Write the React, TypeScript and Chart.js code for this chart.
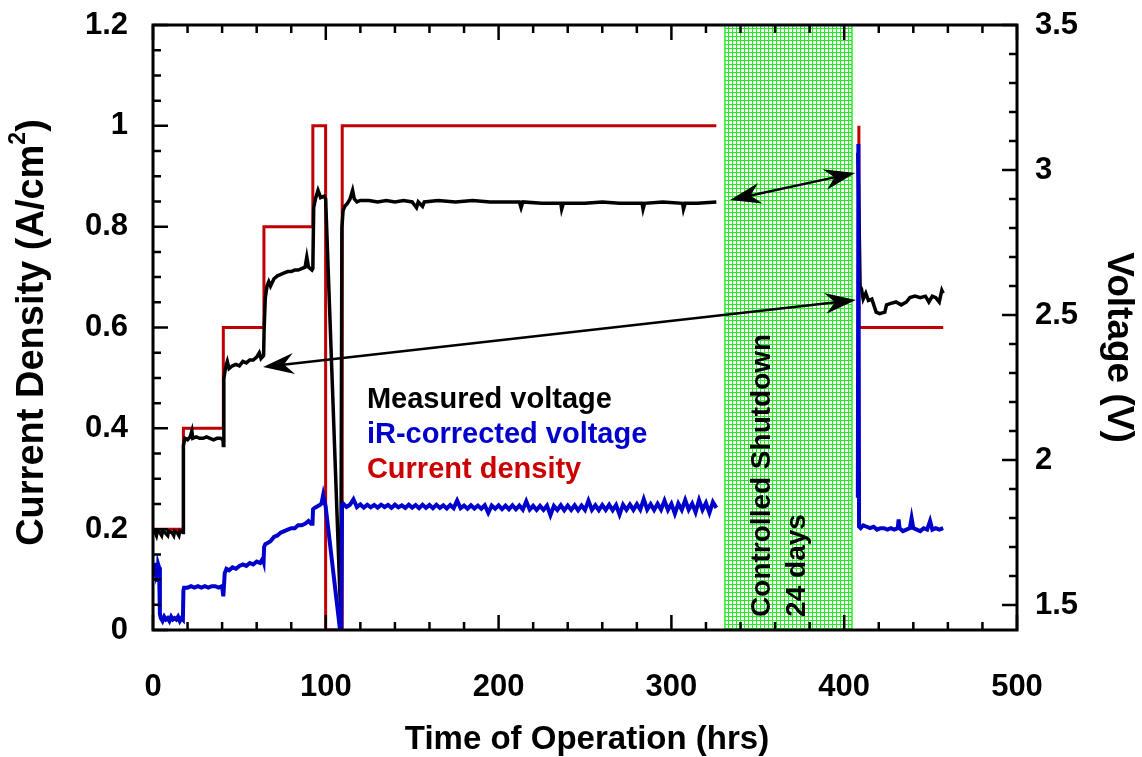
import { useEffect, useRef } from "react";
import { Chart, registerables } from "chart.js";

Chart.register(...registerables);

const FONT = '"Liberation Sans", Arial, Helvetica, sans-serif';

// ---- Current density (A/cm2), left axis ----
const currentT = [0, 17.6, 17.6, 40.7, 40.7, 64.2, 64.2, 92.5, 92.5, 99.9, 99.9, 109.5, 109.5, 326, 367, 408.5, 408.5, 457.3];
const currentJ = [0.2, 0.2, 0.4, 0.4, 0.6, 0.6, 0.8, 0.8, 1.0, 1.0, 0, 0, 1.0, 1.0, null, 1.0, 0.6, 0.6];

// ---- Measured voltage (V), right axis ----
const measuredT = [
  0, 1, 2, 2.5, 4, 5, 5.5, 7, 8.5, 9, 11, 12, 12.5, 14, 15, 15.5, 17.4,
  17.6, 18.5, 20, 21.5, 22.5, 23, 25, 27, 29, 31, 33, 35, 37, 39, 40.5,
  40.7, 41, 42, 43, 44, 46, 48, 50, 52, 54, 56, 58, 60, 61.5, 62.5, 64,
  64.3, 65, 66, 67, 68, 70, 72, 74, 76, 78, 80, 82, 84, 86, 88, 89, 90, 92,
  92.5, 93, 94, 95.5, 97, 99, 99.9,
  108.7, 109.3, 110, 111, 112.5, 114, 115.5, 116.5, 118, 120, 125, 130, 135, 140, 145, 150,
  152.5, 153.5, 156, 157, 165, 175, 185, 195, 205, 212, 213, 214, 225, 236, 236.5, 237.5,
  250, 260, 270, 283, 283.6, 284.5, 295, 306.5, 307, 308, 315, 326,
  367,
  407.9, 408.3, 409.2, 410, 411, 412.5, 414, 416, 418.5, 420.5, 423.5, 424.5, 427, 430,
  433, 436, 438, 441, 444, 447, 449, 451, 453, 455, 456.5, 457.3,
];
const measuredV = [
  1.75, 1.755, 1.74, 1.755, 1.75, 1.74, 1.755, 1.75, 1.74, 1.755, 1.75, 1.74, 1.755, 1.75, 1.74, 1.755, 1.75,
  2.05, 2.075, 2.07, 2.08, 2.1, 2.075, 2.08, 2.075, 2.075, 2.08, 2.075, 2.07, 2.075, 2.075, 2.07,
  2.05, 2.28, 2.32, 2.34, 2.315, 2.325, 2.33, 2.325, 2.34, 2.335, 2.345, 2.345, 2.355, 2.37, 2.35, 2.36,
  2.45, 2.56, 2.6, 2.615, 2.6, 2.625, 2.635, 2.64, 2.645, 2.65, 2.65, 2.655, 2.655, 2.66, 2.665, 2.7, 2.665, 2.655,
  2.66, 2.87, 2.9, 2.93, 2.905, 2.91, 2.9,
  1.45, 2.8, 2.86, 2.875, 2.885, 2.9, 2.93, 2.9, 2.89, 2.895, 2.895, 2.89, 2.895, 2.89, 2.895, 2.89,
  2.87, 2.89, 2.875, 2.89, 2.895, 2.89, 2.895, 2.89, 2.89, 2.89, 2.87, 2.89, 2.885, 2.885, 2.865, 2.885,
  2.885, 2.89, 2.885, 2.885, 2.865, 2.885, 2.89, 2.885, 2.865, 2.885, 2.885, 2.89,
  null,
  3.06, 2.94, 2.6, 2.59, 2.555, 2.575, 2.55, 2.555, 2.51, 2.505, 2.51, 2.535, 2.54, 2.545,
  2.535, 2.545, 2.56, 2.565, 2.56, 2.565, 2.545, 2.565, 2.56, 2.545, 2.585, 2.575,
];

// ---- iR-corrected voltage (V), right axis ----
const irT = [
  0, 0.5, 1, 1.5, 2, 2.5, 3, 3.5, 4,
  4.5, 5.5, 6.5, 7.5, 8.5, 9.5, 10.5, 11.5, 12.5, 13.5, 14.5, 15.5, 16.5, 17.3,
  17.6, 18, 20, 22, 24, 26, 28, 30, 32, 34, 36, 38, 40, 40.5,
  40.7, 41.5, 42.5, 44, 46, 48, 50, 52, 54, 56, 58, 60, 62, 63.5, 64,
  64.3, 65, 66.5, 68, 70, 72, 74, 76, 78, 80, 82, 84, 86, 88, 90, 91.5, 92.3,
  92.6, 93.5, 95, 96.5, 97.5, 98.5, 99.9,
  108.9, 109.4,
  110, 112, 114, 116, 118, 120, 122, 124, 126, 128, 130, 132, 134, 136, 138, 140, 142, 144, 146, 148,
  150, 152, 154, 156, 158, 160, 162, 164, 166, 168, 170, 172, 174, 176, 178, 180, 182, 184, 186, 188,
  190, 192, 194, 196, 198, 200, 202, 204, 206, 208, 210, 212, 214, 216, 218, 220, 222, 224, 226, 228,
  230, 232, 234, 236, 238, 240, 242, 244, 246, 248, 250, 252, 254, 256, 258, 260, 262, 264, 266, 268,
  270, 272, 274, 276, 278, 280, 282, 284, 286, 288, 290, 292, 294, 296, 298, 300, 302, 304, 306, 308,
  310, 312, 314, 316, 318, 320, 322, 324, 326,
  367,
  407.9, 408.2, 408.6, 409.5, 411, 413, 415, 417, 419, 421, 423, 425, 427, 429, 431, 431.5, 432,
  434, 436, 438, 439, 440, 442, 444, 446, 448, 449.7, 451, 453, 455, 457.3,
];
const irV = [
  1.64, 1.6, 1.645, 1.62, 1.64, 1.58, 1.64, 1.63, 1.47,
  1.455, 1.445, 1.46, 1.45, 1.455, 1.445, 1.46, 1.45, 1.455, 1.45, 1.46, 1.445, 1.455, 1.45,
  1.55, 1.56, 1.56, 1.565, 1.56, 1.565, 1.56, 1.565, 1.56, 1.565, 1.565, 1.56, 1.565, 1.565,
  1.53, 1.61, 1.625, 1.62, 1.63, 1.625, 1.635, 1.64, 1.635, 1.645, 1.64, 1.65, 1.645, 1.66, 1.65,
  1.7, 1.71, 1.715, 1.72, 1.735, 1.74, 1.75, 1.755, 1.76, 1.765, 1.765, 1.775, 1.775, 1.78, 1.79, 1.78, 1.78,
  1.83, 1.835, 1.84, 1.845, 1.85, 1.88, 1.84,
  1.38, 1.845,
  1.85, 1.838, 1.846, 1.865, 1.838, 1.847, 1.836, 1.846, 1.837, 1.845, 1.836, 1.846, 1.838, 1.845, 1.835, 1.846, 1.837, 1.844, 1.835, 1.846,
  1.836, 1.845, 1.834, 1.846, 1.835, 1.845, 1.834, 1.846, 1.835, 1.844, 1.833, 1.845, 1.834, 1.86, 1.834, 1.843, 1.832, 1.844, 1.833, 1.843,
  1.832, 1.844, 1.818, 1.843, 1.832, 1.844, 1.831, 1.843, 1.83, 1.844, 1.83, 1.843, 1.829, 1.858, 1.829, 1.842, 1.828, 1.842, 1.828, 1.843,
  1.81, 1.842, 1.828, 1.844, 1.827, 1.843, 1.828, 1.844, 1.827, 1.843, 1.828, 1.86, 1.828, 1.844, 1.827, 1.845, 1.828, 1.846, 1.827, 1.845,
  1.812, 1.846, 1.828, 1.847, 1.828, 1.848, 1.829, 1.865, 1.829, 1.848, 1.828, 1.849, 1.829, 1.86, 1.828, 1.849, 1.815, 1.85, 1.828, 1.862,
  1.829, 1.85, 1.82, 1.862, 1.828, 1.852, 1.818, 1.855, 1.835,
  null,
  1.87, 3.09, 1.77, 1.765, 1.775, 1.77, 1.765, 1.77, 1.76, 1.765, 1.765, 1.76, 1.765, 1.76, 1.765, 1.795, 1.765,
  1.755, 1.76, 1.765, 1.8, 1.765, 1.76, 1.755, 1.765, 1.76, 1.79, 1.76, 1.765, 1.76, 1.765,
];

// ---- Axes ----
const xTicks = [0, 100, 200, 300, 400, 500];
const yTicks = [0, 0.2, 0.4, 0.6, 0.8, 1, 1.2];
const y2Ticks = [1.5, 2, 2.5, 3, 3.5];
const xRange = [0, 500];
const yRange = [0, 1.2];
const y2Range = [1.414, 3.5];

// ---- Annotations (data units) ----
const shutdownStart = 331;
const shutdownEnd = 404.5;
const legendLabels = ["Measured voltage", "iR-corrected voltage", "Current density"];
const legendColors = ["#000000", "#0000cc", "#cc0000"];
const legendX = 123.8;
const legendJ = [0.456, 0.387, 0.317];
// arrows: [t1, V1, t2, V2] on the voltage axis, heads at both ends
const arrow1 = [333.9, 2.897, 406.3, 2.99];
const arrow2 = [63.7, 2.321, 406.8, 2.552];

const pts = (t: number[], v: (number | null)[]) => t.map((x, i) => ({ x, y: v[i] }));

function arrowHead(ctx: CanvasRenderingContext2D, tx: number, ty: number, fx: number, fy: number) {
  const ang = Math.atan2(ty - fy, tx - fx);
  ctx.save();
  ctx.translate(tx, ty);
  ctx.rotate(ang);
  ctx.beginPath();
  ctx.moveTo(0, 0);
  ctx.lineTo(-31, -10.5);
  ctx.lineTo(-21, 0);
  ctx.lineTo(-31, 10.5);
  ctx.closePath();
  ctx.fill();
  ctx.restore();
}

function drawArrow(ctx: CanvasRenderingContext2D, x1: number, y1: number, x2: number, y2: number) {
  const ang = Math.atan2(y2 - y1, x2 - x1);
  const dx = Math.cos(ang) * 20, dy = Math.sin(ang) * 20;
  ctx.beginPath();
  ctx.moveTo(x1 + dx, y1 + dy);
  ctx.lineTo(x2 - dx, y2 - dy);
  ctx.stroke();
  arrowHead(ctx, x1, y1, x2, y2);
  arrowHead(ctx, x2, y2, x1, y1);
}

const decor = {
  id: "decor",
  beforeDatasetsDraw(chart: any) {
    const { ctx, chartArea: a, scales } = chart;
    const x0 = scales.x.getPixelForValue(shutdownStart);
    const x1 = scales.x.getPixelForValue(shutdownEnd);
    const tile = document.createElement("canvas");
    tile.width = 4;
    tile.height = 4;
    const t = tile.getContext("2d")!;
    t.fillStyle = "#ffffff";
    t.fillRect(0, 0, 4, 4);
    t.fillStyle = "#22ee22";
    t.fillRect(0, 0, 4, 1);
    t.fillRect(0, 0, 1, 4);
    ctx.save();
    ctx.fillStyle = ctx.createPattern(tile, "repeat");
    ctx.fillRect(x0, a.top, x1 - x0, a.bottom - a.top);
    ctx.strokeStyle = "#22ee22";
    ctx.lineWidth = 1.5;
    ctx.strokeRect(x0, a.top, x1 - x0, a.bottom - a.top);
    ctx.restore();
  },
  afterDatasetsDraw(chart: any) {
    const { ctx, scales } = chart;
    const { x, y, y2 } = scales;
    ctx.save();
    ctx.strokeStyle = "#000";
    ctx.fillStyle = "#000";
    ctx.lineWidth = 2.5;
    for (const ar of [arrow1, arrow2]) {
      drawArrow(ctx, x.getPixelForValue(ar[0]), y2.getPixelForValue(ar[1]), x.getPixelForValue(ar[2]), y2.getPixelForValue(ar[3]));
    }
    ctx.font = `bold 29px ${FONT}`;
    ctx.textAlign = "left";
    ctx.textBaseline = "middle";
    legendLabels.forEach((s, i) => {
      ctx.fillStyle = legendColors[i];
      ctx.fillText(s, x.getPixelForValue(legendX), y.getPixelForValue(legendJ[i]));
    });
    ctx.fillStyle = "#000";
    ctx.font = `bold 28px ${FONT}`;
    const sx = [352.4, 372.7];
    const sText = ["Controlled Shutdown", "24 days"];
    sText.forEach((s, i) => {
      ctx.save();
      ctx.translate(x.getPixelForValue(sx[i]), y.getPixelForValue(0.026));
      ctx.rotate(-Math.PI / 2);
      ctx.textAlign = "left";
      ctx.textBaseline = "middle";
      ctx.fillText(s, 0, 0);
      ctx.restore();
    });
    ctx.restore();
  },
  afterDraw(chart: any) {
    const { ctx, chartArea: a, scales } = chart;
    const { x, y, y2 } = scales;
    ctx.save();
    ctx.strokeStyle = "#000";
    ctx.lineWidth = 2.5;
    ctx.beginPath();
    for (let v = xRange[0]; v <= xRange[1]; v += 20) {
      const px = x.getPixelForValue(v);
      const L = v % 100 === 0 ? 15 : 8;
      ctx.moveTo(px, a.bottom);
      ctx.lineTo(px, a.bottom - L);
      ctx.moveTo(px, a.top);
      ctx.lineTo(px, a.top + L);
    }
    for (let i = 0; i <= 24; i++) {
      const py = y.getPixelForValue(i * 0.05);
      const L = i % 4 === 0 ? 15 : 8;
      ctx.moveTo(a.left, py);
      ctx.lineTo(a.left + L, py);
    }
    for (let i = 15; i <= 35; i++) {
      const py = y2.getPixelForValue(i / 10);
      const L = i % 5 === 0 ? 15 : 8;
      ctx.moveTo(a.right, py);
      ctx.lineTo(a.right - L, py);
    }
    ctx.stroke();
    ctx.lineWidth = 3;
    ctx.strokeRect(a.left, a.top, a.right - a.left, a.bottom - a.top);

    ctx.fillStyle = "#000";
    ctx.textBaseline = "middle";
    ctx.font = `bold 33px ${FONT}`;
    ctx.textAlign = "center";
    ctx.fillText("Time of Operation (hrs)", (a.left + a.right) / 2 + 2, a.bottom + 110);
    ctx.save();
    ctx.translate(a.left - 120, (a.top + a.bottom) / 2 + 5);
    ctx.rotate(-Math.PI / 2);
    const F = 38;
    const p1 = "Current Density (A/cm";
    const p3 = ")";
    ctx.font = `bold ${F}px ${FONT}`;
    const w1 = ctx.measureText(p1).width;
    const w3 = ctx.measureText(p3).width;
    ctx.font = `bold ${Math.round(F * 0.6)}px ${FONT}`;
    const w2 = ctx.measureText("2").width;
    const start = -(w1 + w2 + w3) / 2;
    ctx.textAlign = "left";
    ctx.font = `bold ${F}px ${FONT}`;
    ctx.fillText(p1, start, 0);
    ctx.fillText(p3, start + w1 + w2, 0);
    ctx.font = `bold ${Math.round(F * 0.6)}px ${FONT}`;
    ctx.fillText("2", start + w1, -F * 0.38);
    ctx.restore();
    ctx.save();
    ctx.translate(a.right + 101, (a.top + a.bottom) / 2 + 20);
    ctx.rotate(Math.PI / 2);
    ctx.font = `bold 37px ${FONT}`;
    ctx.textAlign = "center";
    ctx.fillText("Voltage (V)", 0, 0);
    ctx.restore();
    ctx.restore();
  },
};

export default function App() {
  const ref = useRef<HTMLCanvasElement>(null);
  useEffect(() => {
    const tickFont = { family: FONT, size: 31, weight: "bold" as const };
    const fmt = (v: any) => String(Number(v));
    const noPad = (s: any) => {
      s.paddingTop = 0;
      s.paddingBottom = 0;
    };
    const chart = new Chart(ref.current!, {
      type: "line",
      data: {
        datasets: [
          {
            label: "iR-corrected voltage",
            data: pts(irT, irV),
            borderColor: "#0000cc",
            borderWidth: 4,
            pointRadius: 0,
            yAxisID: "y2",
            order: 1,
            spanGaps: false,
          },
          {
            label: "Measured voltage",
            data: pts(measuredT, measuredV),
            borderColor: "#000000",
            borderWidth: 3.5,
            pointRadius: 0,
            yAxisID: "y2",
            order: 2,
            spanGaps: false,
          },
          {
            label: "Current density",
            data: pts(currentT, currentJ),
            borderColor: "#c00000",
            borderWidth: 3,
            pointRadius: 0,
            yAxisID: "y",
            order: 3,
            spanGaps: false,
          },
        ] as any,
      },
      options: {
        animation: false,
        responsive: false,
        maintainAspectRatio: false,
        layout: { padding: { top: 25, left: 0, right: 0, bottom: 0 } },
        plugins: { legend: { display: false }, tooltip: { enabled: false }, title: { display: false } },
        scales: {
          x: {
            type: "linear",
            position: "bottom",
            min: xRange[0],
            max: xRange[1],
            grid: { display: false, drawTicks: false },
            border: { display: false },
            ticks: { font: tickFont, color: "#000", padding: 39, maxRotation: 0, autoSkip: false, callback: fmt },
            afterBuildTicks: (s: any) => {
              s.ticks = xTicks.map((v) => ({ value: v }));
            },
            afterFit: (s: any) => {
              s.height = 127;
              s.paddingLeft = 0;
              s.paddingRight = 0;
            },
          },
          y: {
            type: "linear",
            position: "left",
            min: yRange[0],
            max: yRange[1],
            grid: { display: false, drawTicks: false },
            border: { display: false },
            ticks: { font: tickFont, color: "#000", padding: 25, autoSkip: false, callback: fmt },
            afterBuildTicks: (s: any) => {
              s.ticks = yTicks.map((v) => ({ value: v }));
            },
            afterFit: (s: any) => {
              s.width = 153;
              noPad(s);
            },
          },
          y2: {
            type: "linear",
            position: "right",
            min: y2Range[0],
            max: y2Range[1],
            grid: { display: false, drawTicks: false },
            border: { display: false },
            ticks: { font: tickFont, color: "#000", padding: 18, autoSkip: false, callback: fmt },
            afterBuildTicks: (s: any) => {
              s.ticks = y2Ticks.map((v) => ({ value: v }));
            },
            afterFit: (s: any) => {
              s.width = 125;
              noPad(s);
            },
          },
        },
      } as any,
      plugins: [decor],
    });
    return () => chart.destroy();
  }, []);
  return (
    <div style={{ position: "fixed", left: 0, top: 0, width: 1142, height: 757, background: "#fff" }}>
      <canvas ref={ref} width={1142} height={757} style={{ display: "block" }} />
    </div>
  );
}
